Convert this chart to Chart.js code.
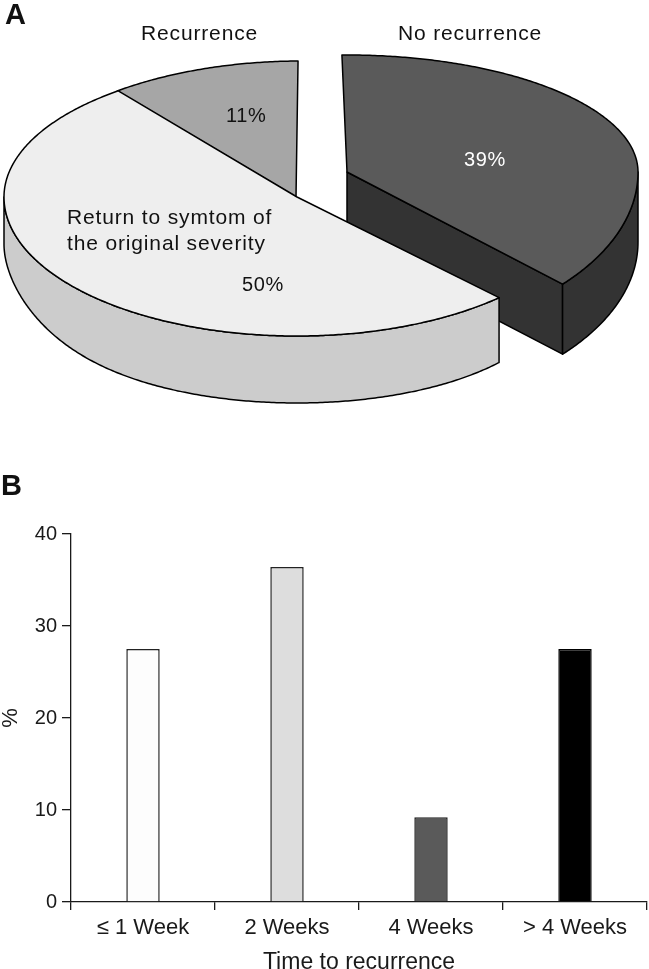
<!DOCTYPE html>
<html>
<head>
<meta charset="utf-8">
<style>
html,body{margin:0;padding:0;background:#fff;width:649px;height:969px;overflow:hidden}
#pie{position:absolute;left:0;top:0}
#bar{position:absolute;left:0;top:480px}
.t{position:absolute;font-family:"Liberation Sans",sans-serif;font-size:21px;letter-spacing:.85px;line-height:24px;white-space:nowrap;color:#111}
.n{font-size:20px;letter-spacing:.6px}
.p{position:absolute;font-family:"Liberation Sans",sans-serif;font-weight:700;font-size:29px;line-height:31px;color:#111}
</style>
</head>
<body>
<canvas id="pie" width="649" height="430"></canvas>
<canvas id="bar" width="649" height="489"></canvas>
<div class="p" style="left:5px;top:-1px">A</div>
<div class="p" style="left:1px;top:470px">B</div>
<div class="t" style="left:141px;top:21px">Recurrence</div>
<div class="t" style="left:398px;top:21px">No recurrence</div>
<div class="t n" style="left:226px;top:103px">11%</div>
<div class="t n" style="left:464px;top:147px;color:#fff">39%</div>
<div class="t" style="left:67px;top:205px">Return to symtom of</div>
<div class="t" style="left:67px;top:231px">the original severity</div>
<div class="t n" style="left:242px;top:272px">50%</div>
<script src="https://cdn.jsdelivr.net/npm/chart.js@4"></script>
<script>
// Panel A
const pieLabels = ["No recurrence", "Return to symtom of the original severity", "Recurrence"];
const pieValues = [39, 50, 11];
const pieTopColors = ["#5a5a5a", "#eeeeee", "#a6a6a6"];
const pieSideColors = ["#333333", "#cccccc", "#a6a6a6"];
// Panel B
const barLabels = ["≤ 1 Week", "2 Weeks", "4 Weeks", "> 4 Weeks"];
const barValues = [27.5, 36.4, 9.2, 27.5];
const barColors = ["#fdfdfd", "#dddddd", "#5a5a5a", "#000000"];
const barEdges = ["#222222", "#222222", "#222222", "#000000"];
const yTicks = [0, 10, 20, 30, 40];

const FONT = '"Liberation Sans", sans-serif';
const INK = "#1a1a1a";

// Perspective of each slice (foreshortening of the drawing), indexed like pieValues
const sliceView = [
  {dx: 50, dy: -25, a: 291, up: 117, down: 167, s: 0, e: -7.2, tilt: 0, depth: () => 70},
  {dx: 0, dy: 0, a: 293, up: 134, down: 139, s: -3, e: 3, tilt: 0,
   depth: t => 67 - 20 * Math.pow(Math.abs(Math.cos(t)), 6)},
  {dx: -1, dy: 0, a: 293, up: 136, down: 136, s: 3, e: 1.4, tilt: -2.8, depth: () => 0}
];

const pie3d = {
  id: "pie3d",
  beforeDatasetsDraw(chart) {
    const ctx = chart.ctx;
    const arcs = chart.getDatasetMeta(0).data;
    const R = Math.PI / 180;
    const geo = i => {
      const el = arcs[i].getProps(["x", "y", "startAngle", "endAngle"], true);
      const v = sliceView[i];
      const cx = el.x + v.dx, cy = el.y + v.dy;
      const s = el.startAngle + v.s * R, e = el.endAngle + v.e * R;
      const pt = (t, d = 0) => {
        const sn = Math.sin(t), cs = Math.cos(t);
        return [cx + v.a * cs, cy + (sn < 0 ? v.up : v.down) * sn + v.tilt * cs + d];
      };
      return {cx, cy, s, e, pt, v};
    };
    const stroke = () => {
      ctx.lineWidth = 1.5; ctx.strokeStyle = "#000"; ctx.lineJoin = "round"; ctx.stroke();
    };
    const top = (i) => {
      const g = geo(i);
      ctx.beginPath();
      ctx.moveTo(g.cx, g.cy);
      for (let t = g.s; t < g.e; t += R / 2) ctx.lineTo(...g.pt(t));
      ctx.lineTo(...g.pt(g.e));
      ctx.closePath();
      ctx.fillStyle = pieTopColors[i];
      ctx.fill(); stroke();
    };
    const rim = (i, from, to) => {
      const g = geo(i);
      ctx.beginPath();
      for (let t = from; t < to; t += R / 2) ctx.lineTo(...g.pt(t));
      ctx.lineTo(...g.pt(to));
      for (let t = to; t > from; t -= R / 2) ctx.lineTo(...g.pt(t, g.v.depth(t)));
      ctx.lineTo(...g.pt(from, g.v.depth(from)));
      ctx.closePath();
      ctx.fillStyle = pieSideColors[i];
      ctx.fill(); stroke();
    };
    // back slice
    top(2);
    // dark slice: cut wall, outer wall, top
    {
      const g = geo(0);
      const d = g.v.depth(0);
      const [ex, ey] = g.pt(g.e);
      ctx.beginPath();
      ctx.moveTo(g.cx, g.cy);
      ctx.lineTo(ex, ey);
      ctx.lineTo(ex, ey + d);
      ctx.lineTo(g.cx, g.cy + d);
      ctx.closePath();
      ctx.fillStyle = pieSideColors[0];
      ctx.fill(); stroke();
      rim(0, 0, g.e);
      top(0);
    }
    // light slice: outer wall, top
    {
      const g = geo(1);
      rim(1, g.s, Math.PI);
      top(1);
    }
    return false;
  }
};

new Chart(document.getElementById("pie"), {
  type: "pie",
  data: {labels: pieLabels, datasets: [{data: pieValues, backgroundColor: pieTopColors}]},
  options: {
    responsive: false, animation: false, rotation: -1,
    layout: {padding: {right: 55, bottom: 36}},
    plugins: {legend: {display: false}, tooltip: {enabled: false}}
  },
  plugins: [pie3d]
});

new Chart(document.getElementById("bar"), {
  type: "bar",
  data: {labels: barLabels, datasets: [{
    data: barValues, backgroundColor: barColors, borderColor: barEdges, borderWidth: 1.5,
    barPercentage: 0.232, categoryPercentage: 1
  }]},
  options: {
    responsive: false, animation: false,
    layout: {padding: {top: 54, right: 2, left: 0, bottom: 0}},
    plugins: {legend: {display: false}, tooltip: {enabled: false}},
    scales: {
      x: {
        grid: {offset: true, drawOnChartArea: false, drawTicks: true, tickLength: 8, color: INK, lineWidth: 1.3},
        border: {color: INK, width: 1.3},
        ticks: {color: INK, font: {family: FONT, size: 22}, padding: 5, maxRotation: 0},
        title: {display: true, text: "Time to recurrence", color: INK, font: {family: FONT, size: 23}, padding: {top: 8, bottom: -7}},
        afterFit(s) { s.height = 67; }
      },
      y: {
        min: 0, max: 40,
        afterBuildTicks(s) { s.ticks = yTicks.map(value => ({value})); },
        grid: {drawOnChartArea: false, drawTicks: true, tickLength: 9, color: INK, lineWidth: 1.3},
        border: {color: INK, width: 1.3},
        ticks: {color: INK, font: {family: FONT, size: 20}, padding: 5},
        title: {display: true, text: "%", color: INK, font: {family: FONT, size: 22}, padding: {top: -2, bottom: 0}},
        afterFit(s) { s.width = 71; }
      }
    }
  }
});
</script>
</body>
</html>
